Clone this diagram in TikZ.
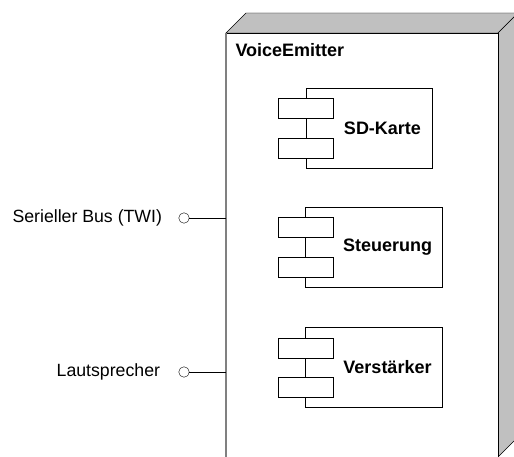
\documentclass[tikz,border=0pt]{standalone}
\usepackage{fontspec}
\setmainfont{Liberation Sans}
\usetikzlibrary{positioning}

\definecolor{sidegray}{RGB}{192,192,192}

\begin{document}
\begin{tikzpicture}[x=1pt,y=-1pt,every node/.style={font=\fontsize{17.7}{21}\selectfont},
  part/.style={draw,minimum width=137pt,minimum height=80pt,inner sep=0pt},
  port/.style={draw,fill=white,minimum width=55pt,minimum height=20pt,inner sep=0pt},
  title/.style={font=\fontsize{18}{21}\selectfont\bfseries},
  lolli/.style={draw,circle,fill=white,minimum size=10.5pt,inner sep=0pt}]
\useasboundingbox (0,0) rectangle (514,457);
\clip (0,0) rectangle (514,457);
% the device
\filldraw[fill=sidegray] (226,33) -- (246,13) -- (518,13) -- (498,33) -- cycle;
\filldraw[fill=sidegray] (498,33) -- (518,13) -- (518,437) -- (498,457) -- cycle;
\node[draw,fill=white,minimum width=272pt,minimum height=430pt,anchor=north west,inner sep=0pt] (emitter) at (226,33) {};
\draw[gray,line width=1.5pt] (emitter.north west) -- (emitter.south west);
\node[title,anchor=base west] (name) at (232,57) {VoiceEmitter};
% components
\node[part,minimum width=126pt] (sd) at (369,128.5) {};
\node[port] (sd1) at (305.5,108.5) {};
\node[port] (sd2) at (305.5,148) {};
\node[title] (sdlabel) at (382.5,128.5) {SD-Karte};
\node[part] (st) at (373.5,247) {};
\node[port] (st1) at (305.5,227) {};
\node[port] (st2) at (305.5,267) {};
\node[title] (stlabel) at (387.5,247) {Steuerung};
\node[part] (vs) at (373.5,367.5) {};
\node[port] (vs1) at (305.5,348) {};
\node[port] (vs2) at (305.5,387.5) {};
\node[title] (vslabel) at (387.5,367.5) {Verstärker};
% interfaces
\node[lolli] (bus) at (184,218) {};
\node[left=13pt of bus] (buslabel) {Serieller Bus (TWI)};
\node[lolli] (spk) at (184,372) {};
\node[left=15pt of spk] (spklabel) {Lautsprecher};
\draw (bus) -- (bus -| emitter.west);
\draw (spk) -- (spk -| emitter.west);
\end{tikzpicture}
\end{document}
